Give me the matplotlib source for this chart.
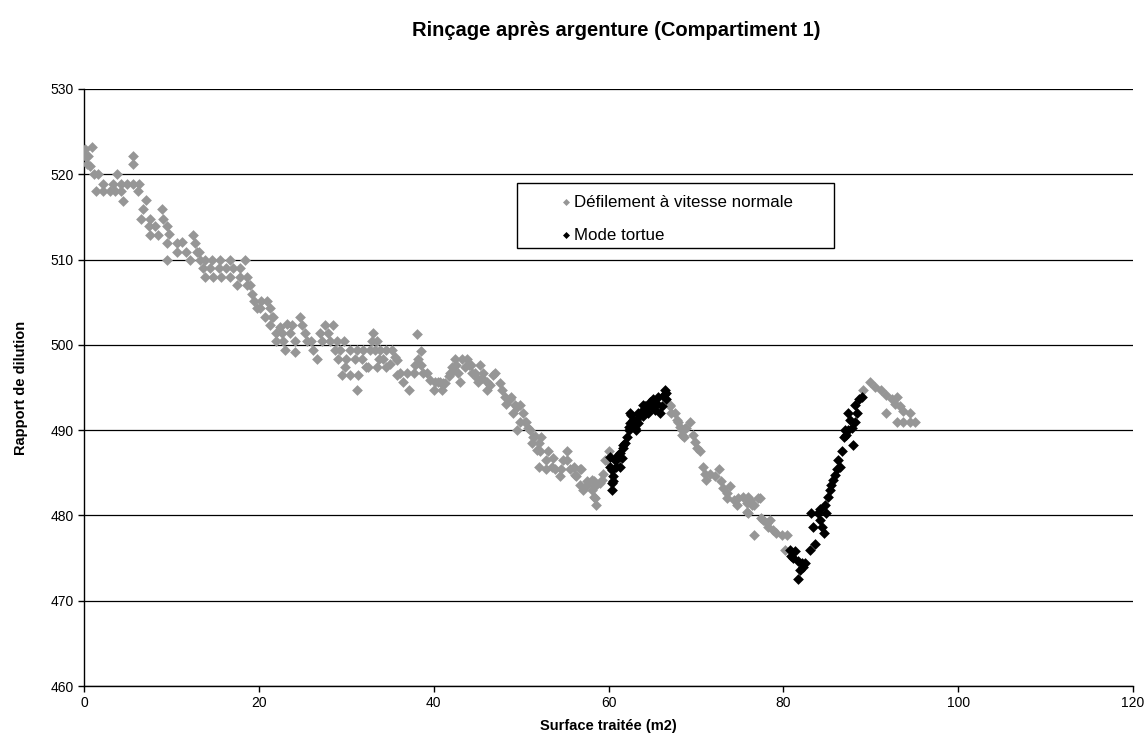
import matplotlib
matplotlib.use("Agg")
import matplotlib.pyplot as plt
from matplotlib.patches import Rectangle

plt.rcParams['font.family'] = ['Liberation Sans', 'DejaVu Sans']

title = "Rinçage après argenture (Compartiment 1)"
xlabel = "Surface traitée (m2)"
ylabel = "Rapport de dilution"
label_normal = "Défilement à vitesse normale"
label_tortue = "Mode tortue"
xticks = [0, 20, 40, 60, 80, 100, 120]
yticks = [460, 470, 480, 490, 500, 510, 520, 530]

normal_pts = [
    (0.1, 523.0), (0.9, 523.2), (0.1, 522.1), (0.5, 522.1), (0.3, 521.2), (0.7, 521.0),
    (1.1, 520.0), (1.6, 520.0), (1.4, 518.0), (2.2, 518.9), (2.2, 518.0), (2.95, 518.0),
    (3.3, 518.9), (3.6, 518.0), (3.8, 520.0), (4.2, 518.9), (4.2, 518.0), (4.5, 516.9),
    (4.95, 518.9), (5.55, 518.9), (5.6, 522.1), (5.6, 521.2), (6.2, 518.0), (6.3, 518.9),
    (6.5, 514.8), (6.8, 515.9), (7.1, 517.0), (7.4, 513.9), (7.55, 512.9), (7.6, 514.8),
    (8.1, 513.9), (8.5, 512.9), (8.9, 515.9), (9.0, 514.8), (9.5, 513.9), (9.5, 511.9),
    (9.45, 510.0), (9.75, 513.0), (10.6, 511.9), (10.6, 510.9), (11.2, 512.1), (11.7, 510.9),
    (12.1, 510.0), (12.5, 512.9), (12.7, 511.9), (12.9, 510.9), (13.1, 510.9), (13.3, 510.0),
    (13.6, 509.0), (13.8, 510.0), (13.8, 508.0), (14.4, 509.0), (14.6, 510.0), (14.8, 508.0),
    (15.4, 509.0), (15.6, 510.0), (15.7, 508.0), (16.3, 509.0), (16.7, 510.0), (16.7, 508.0),
    (17.1, 509.0), (17.5, 507.0), (17.8, 509.0), (17.8, 508.0), (18.4, 510.0), (18.6, 508.0),
    (18.6, 507.0), (19.0, 507.0), (19.2, 506.0), (19.4, 505.1), (19.75, 504.3), (20.1, 504.3),
    (20.3, 505.1), (20.7, 503.3), (20.9, 505.1), (21.3, 504.3), (21.5, 503.3), (21.65, 503.3),
    (21.3, 502.3), (22.0, 501.4), (22.0, 500.4), (22.4, 502.1), (22.6, 501.4), (22.8, 500.4),
    (23.0, 499.4), (23.2, 502.5), (23.6, 501.4), (23.8, 502.3), (24.1, 500.4), (24.1, 499.2),
    (24.7, 503.3), (24.9, 502.3), (25.3, 501.4), (25.5, 500.4), (26.0, 500.4), (26.2, 499.4),
    (26.6, 498.4), (27.0, 501.4), (27.2, 500.4), (27.6, 502.3), (27.9, 501.4), (28.1, 500.4),
    (28.5, 502.3), (28.7, 499.4), (28.9, 500.4), (29.1, 498.4), (29.3, 499.4), (29.5, 496.5),
    (29.7, 500.4), (29.9, 497.4), (30.0, 498.4), (30.4, 499.4), (30.4, 496.5), (31.0, 498.4),
    (31.2, 499.4), (31.2, 494.7), (31.4, 496.5), (31.8, 498.4), (31.9, 499.4), (32.3, 497.4),
    (32.5, 497.4), (32.7, 499.4), (32.9, 500.4), (33.1, 501.4), (33.3, 499.4), (33.5, 500.4),
    (33.5, 497.4), (33.7, 498.4), (33.9, 499.4), (34.2, 498.4), (34.6, 499.4), (34.6, 497.4),
    (35.0, 497.8), (35.2, 499.4), (35.6, 498.6), (35.8, 498.2), (35.8, 496.5), (36.1, 496.7),
    (36.5, 495.7), (36.9, 496.7), (37.2, 494.7), (37.7, 496.7), (37.9, 497.6), (38.05, 501.3),
    (38.2, 498.4), (38.6, 499.3), (38.6, 497.6), (38.8, 496.7), (39.2, 496.7), (39.6, 495.9),
    (40.0, 494.7), (40.2, 495.7), (40.5, 495.7), (40.7, 495.7), (40.9, 494.7), (41.1, 495.5),
    (41.3, 495.5), (41.7, 496.3), (41.9, 496.7), (42.1, 497.4), (42.2, 496.9), (42.4, 498.4),
    (42.6, 497.6), (42.8, 496.7), (43.0, 495.7), (43.2, 498.4), (43.6, 497.4), (43.8, 498.4),
    (44.0, 497.6), (44.3, 497.6), (44.4, 496.7), (44.7, 496.7), (44.9, 496.1), (45.1, 495.7),
    (45.3, 497.6), (45.5, 496.1), (45.7, 496.7), (46.1, 495.7), (46.1, 494.7), (46.4, 495.3),
    (46.8, 496.5), (47.0, 496.7), (47.6, 495.5), (47.8, 494.7), (48.2, 493.9), (48.3, 493.1),
    (48.7, 493.7), (48.9, 493.9), (49.1, 492.0), (49.3, 492.9), (49.5, 492.7), (49.5, 490.0),
    (49.9, 492.9), (49.9, 491.0), (50.2, 492.0), (50.4, 491.0), (50.6, 491.0), (50.8, 490.2),
    (51.0, 490.0), (51.2, 488.5), (51.4, 489.2), (51.6, 489.3), (51.8, 487.7), (52.0, 488.5),
    (52.0, 485.7), (52.2, 487.5), (52.3, 489.2), (52.9, 486.5), (52.9, 485.5), (53.1, 487.5),
    (53.5, 485.7), (53.7, 486.7), (53.9, 485.5), (54.4, 484.6), (54.6, 485.5), (54.8, 486.5),
    (55.2, 487.5), (55.2, 486.5), (55.6, 485.5), (56.0, 485.7), (56.2, 484.7), (56.3, 484.6),
    (56.7, 485.5), (56.7, 483.6), (56.9, 485.5), (57.1, 483.0), (57.5, 484.0), (57.5, 483.6),
    (58.1, 484.2), (58.1, 483.0), (58.3, 484.0), (58.3, 482.2), (58.5, 483.4), (58.5, 482.0),
    (58.6, 481.2), (59.0, 483.8), (59.2, 484.2), (59.4, 484.9), (59.6, 486.5), (59.8, 486.5),
    (60.0, 487.5),
    (67.0, 493.0), (67.0, 492.8), (67.2, 492.0), (67.6, 492.0), (67.8, 491.2), (68.0, 491.0),
    (68.2, 490.4), (68.4, 489.4), (68.4, 490.0), (68.6, 489.2), (68.7, 490.2), (68.9, 490.2),
    (69.3, 491.0), (69.7, 489.4), (69.9, 488.6), (70.1, 487.9), (70.5, 487.5), (70.8, 485.7),
    (71.0, 484.9), (71.2, 484.2), (71.6, 484.9), (72.2, 484.6), (72.6, 485.5), (72.9, 484.0),
    (73.1, 483.2), (73.5, 482.6), (73.5, 482.0), (73.9, 483.4), (74.3, 481.8), (74.7, 481.2),
    (74.8, 482.0), (75.4, 482.2), (75.8, 481.4), (75.8, 480.4), (76.0, 482.2), (76.0, 480.3),
    (76.2, 481.8), (76.4, 481.2), (76.6, 481.2), (76.6, 477.7), (77.1, 482.0), (77.3, 482.0),
    (77.5, 479.7), (77.7, 479.5), (78.1, 479.1), (78.3, 478.7), (78.5, 479.5), (78.8, 478.3),
    (79.2, 477.9), (79.8, 477.7), (80.2, 476.0), (80.4, 477.7),
    (89.1, 494.7), (89.9, 495.7), (90.5, 495.1), (91.2, 494.7), (91.8, 494.1), (91.8, 492.0),
    (92.4, 493.7), (92.8, 493.1), (93.0, 493.9), (93.0, 491.0), (93.3, 492.8), (93.7, 492.2),
    (93.7, 491.0), (94.5, 492.0), (94.5, 491.0), (95.1, 491.0),
]

tortue_pts = [
    (60.2, 485.7), (60.2, 486.9), (60.4, 483.0), (60.4, 483.8), (60.4, 485.3), (60.5, 484.6),
    (60.5, 484.0), (60.7, 486.5), (60.9, 485.7), (60.9, 486.5), (61.1, 487.1), (61.3, 485.7),
    (61.3, 487.3), (61.5, 486.7), (61.7, 487.9), (61.7, 488.3), (61.9, 488.5), (62.1, 489.2),
    (62.3, 490.0), (62.3, 490.4), (62.5, 490.8), (62.5, 492.0), (62.6, 491.8), (62.8, 490.8),
    (62.8, 491.2), (63.0, 490.2), (63.2, 491.2), (63.2, 490.0), (63.4, 492.0), (63.4, 490.8),
    (63.6, 491.8), (63.8, 492.2), (64.0, 493.0), (64.0, 491.6), (64.2, 492.8), (64.4, 492.8),
    (64.5, 492.0), (64.5, 493.0), (64.7, 493.3), (64.9, 492.8), (65.1, 493.7), (65.3, 492.4),
    (65.5, 493.1), (65.7, 493.9), (65.9, 492.0), (66.1, 492.8), (66.3, 494.1), (66.5, 494.7),
    (66.6, 494.3), (66.6, 493.7),
    (80.8, 476.0), (80.9, 475.2), (81.1, 475.0), (81.3, 475.8), (81.7, 474.6), (81.7, 472.6),
    (81.9, 473.6), (82.1, 474.4), (82.3, 474.0), (82.5, 474.4), (83.0, 476.0), (83.2, 480.3),
    (83.4, 478.7), (83.6, 476.7), (84.0, 480.3), (84.2, 479.5), (84.2, 480.8), (84.4, 478.7),
    (84.6, 477.9), (84.8, 481.2), (84.9, 480.3), (85.1, 482.2), (85.3, 483.0), (85.5, 483.6),
    (85.7, 484.2), (85.9, 484.7), (86.1, 485.5), (86.3, 486.5), (86.5, 485.7), (86.7, 487.5),
    (86.9, 489.2), (87.0, 490.0), (87.2, 489.4), (87.4, 490.0), (87.4, 492.0), (87.6, 491.2),
    (87.8, 490.2), (88.0, 488.3), (88.2, 491.0), (88.2, 493.0), (88.4, 492.0), (88.6, 493.7),
    (89.0, 493.9),
]

normal_x = [p[0] for p in normal_pts]
normal_y = [p[1] for p in normal_pts]
tortue_x = [p[0] for p in tortue_pts]
tortue_y = [p[1] for p in tortue_pts]

fig = plt.figure(figsize=(11.48, 7.49), dpi=100)
ax = fig.add_axes([84/1148, 1-686/749, (1133-84)/1148, (686-89)/749])

gray = '#969696'
ax.scatter(normal_x, normal_y, marker='D', s=30, color=gray, linewidths=0, zorder=3, label=label_normal)
ax.scatter(tortue_x, tortue_y, marker='D', s=30, color='black', linewidths=0, zorder=4, label=label_tortue)

ax.set_xlim(0, 120)
ax.set_ylim(460, 530)
ax.set_xticks(xticks)
ax.set_yticks(yticks)
ax.tick_params(axis='both', labelsize=10, length=4, width=1, color='black', direction='out')
ax.yaxis.grid(True, color='black', linewidth=0.9)
ax.set_axisbelow(True)
for s in ['top', 'right']:
    ax.spines[s].set_visible(False)
for s in ['left', 'bottom']:
    ax.spines[s].set_linewidth(1)

ax.set_xlabel(xlabel, fontsize=10.5, fontweight='bold', labelpad=6)
ax.set_ylabel(ylabel, fontsize=10.5, fontweight='bold', labelpad=16)
fig.text(616/1148, 1-30/749, title, ha='center', va='center', fontsize=14.5, fontweight='bold')

# legend
rect = Rectangle(((517-84)/1049, (686-248)/597), (834-517)/1049, (248-183)/597,
                 transform=ax.transAxes, facecolor='white', edgecolor='black', linewidth=1, zorder=5)
ax.add_patch(rect)
leg = ax.legend(loc='upper left', bbox_to_anchor=((552-84)/1049, (686-188)/597), frameon=False,
                fontsize=12.2, handletextpad=0.1, handlelength=0.8, labelspacing=1.05,
                markerscale=0.65, borderaxespad=0)
leg.set_zorder(6)

fig.savefig('out.png', dpi=100)
